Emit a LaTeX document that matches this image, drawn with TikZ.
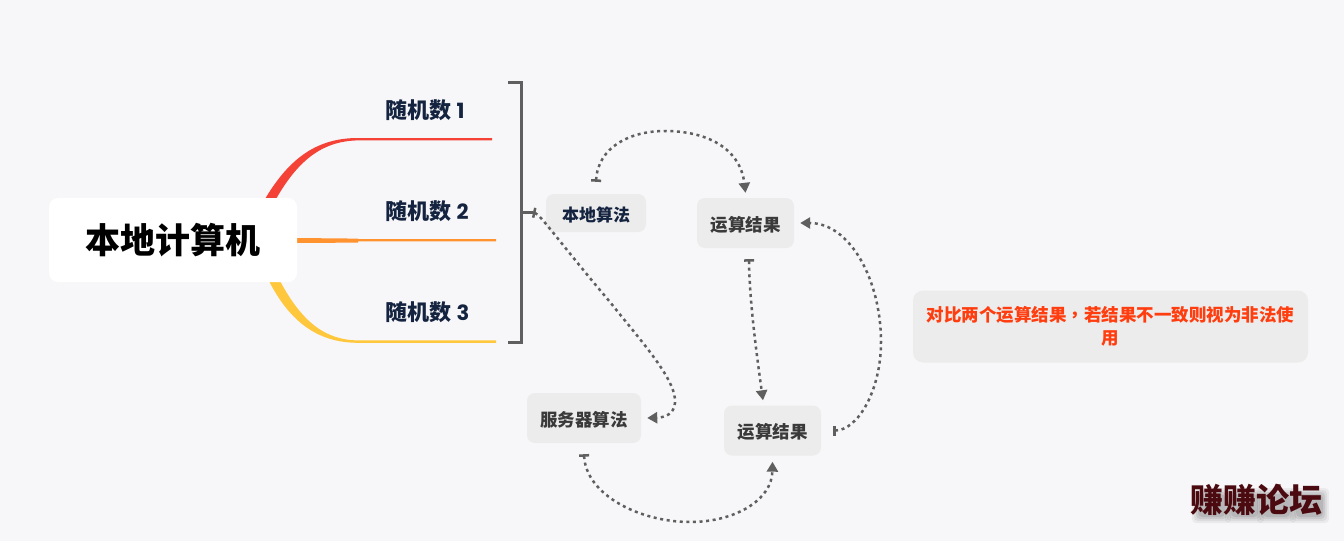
\documentclass[tikz,border=0pt]{standalone}
\usepackage{fontspec}
\setmainfont{Noto Sans CJK SC}
\newfontfamily\pop{Poppins}
\newfontfamily\tccomma{Noto Sans CJK TC}
\usetikzlibrary{arrows.meta,calc}
\definecolor{bgc}{HTML}{F7F7F9}
\definecolor{boxc}{HTML}{ECECEC}
\definecolor{navy}{HTML}{14233F}
\definecolor{inkc}{HTML}{3A3A3A}
\definecolor{linkc}{HTML}{5F5F5F}
\definecolor{redc}{HTML}{F44336}
\definecolor{orangec}{HTML}{FF9330}
\definecolor{yellowc}{HTML}{FFC73C}
\definecolor{notec}{HTML}{FF3D0F}
\definecolor{markc}{HTML}{4A0A10}
\newcommand{\fs}[1]{\fontsize{#1}{#1}\selectfont}
\tikzset{
  box/.style={fill=boxc,rounded corners=8pt,inner sep=0pt,align=center},
  topic/.style={anchor=west,inner sep=0pt,text=navy,font=\fs{22}\bfseries},
  link/.style={draw=linkc,line width=2.5pt,dash pattern=on 3pt off 3.6pt,
    {Bar[width=10pt,length=2.5pt]}-{Triangle[length=10pt,width=11pt]}},
  bracketline/.style={draw=linkc,line width=3pt},
}
\begin{document}
\begin{tikzpicture}[x=1pt,y=-1pt]
\useasboundingbox (0,0) rectangle (1344,541);
\fill[bgc] (0,0) rectangle (1344,541);
% branches
\fill[redc] (265,199) .. controls (290,157) and (318,138) .. (358,138) -- (492,138) -- (492,140.4) -- (358,140.4) .. controls (325,141) and (300,157) .. (276,199) -- cycle;
\fill[orangec] (296,238) -- (358,238.6) -- (358,239) -- (496,239) -- (496,241.4) -- (358,241.4) -- (358,242.6) -- (296,243) -- cycle;
\fill[yellowc] (269,281) .. controls (290,322) and (318,342.8) .. (358,342.8) -- (496,342.8) -- (496,340.4) -- (358,340.4) .. controls (325,340) and (302,322) .. (280,281) -- cycle;
% nodes
\node[fill=white,rounded corners=9pt,minimum width=248pt,minimum height=84pt,inner sep=0pt,font=\fs{35}\bfseries] (root) at (173,240) {本地计算机};
\node[topic] (t1) at (385.5,110.5) {随机数 {\pop\fs{21}1}};
\node[topic] (t2) at (385.5,211.5) {随机数 {\pop\fs{21}2}};
\node[topic] (t3) at (385.5,312.5) {随机数 {\pop\fs{21}3}};
\node[box,minimum width=100pt,minimum height=38pt,text=navy,font=\fs{17}\bfseries,text depth=1pt,text height=17pt] (alg) at (596,213) {本地算法};
\node[box,minimum width=97pt,minimum height=50pt,text=inkc,font=\fs{17.5}\bfseries,text depth=1pt,text height=17pt] (res1) at (745.5,223) {运算结果};
\node[box,minimum width=114pt,minimum height=50pt,text=inkc,font=\fs{17.5}\bfseries,text depth=1pt,text height=17pt] (srv) at (584,418) {服务器算法};
\node[box,minimum width=97pt,minimum height=50pt,text=inkc,font=\fs{17.5}\bfseries,text depth=1pt,text height=17pt] (res2) at (772.5,430.5) {运算结果};
\node[box,rounded corners=10pt,minimum width=395pt,minimum height=72pt,text=notec,font=\fs{17.5}\bfseries] (note) at (1110.5,326.5) {对比两个运算结果{\tccomma ，}若结果不一致则视为非法使\\[6pt]用};
% watermark shadow
\foreach \g in {1207,1240,1272,1305}
  \foreach \s/\op in {0/0.09,2/0.08,4/0.06,6/0.05}
    \fill[black,opacity=\op,rounded corners=4pt] (\g-13-\s+4,489-\s+5) rectangle (\g+13+\s+5,513+\s+4);
\node[inner sep=0pt,text=markc,font=\fs{33}\bfseries] (mark) at (1256,500) {赚赚论坛};
% bracket
\coordinate (brk) at (521.5,212.5);
\coordinate (tee) at (533,212.5);
\draw[bracketline] (508,82.5) -- (521.5,82.5) -- (521.5,342.8) -- (508,342.8);
\draw[bracketline] (brk) -- (tee);
% connectors
\draw[link] ([yshift=12pt]alg.north) .. controls (598,147) and (630,131) .. (665,131) .. controls (705,131) and (740,147) .. ([yshift=5pt]res1.north);
\draw[link] (tee) .. controls (540,214) and (560,243) .. (610,302) .. controls (640,340) and (677,380) .. (675,403) .. controls (674,414) and (665,417.5) .. ([xshift=6pt]srv.east);
\draw[link] ([xshift=3.5pt,yshift=-11pt]res1.south) .. controls (749.5,300) and (756,350) .. ([xshift=-9.5pt,yshift=5pt]res2.north);
\draw[link] ([xshift=12pt]res2.east) .. controls (858,430.5) and (881,390) .. (881,342) .. controls (881,280) and (850,223) .. ([xshift=6pt]res1.east);
\draw[link] ([yshift=-11pt]srv.south) .. controls (586,495) and (640,522) .. (690,522) .. controls (735,522) and (772,500) .. ([yshift=-6pt]res2.south);
\end{tikzpicture}
\end{document}
